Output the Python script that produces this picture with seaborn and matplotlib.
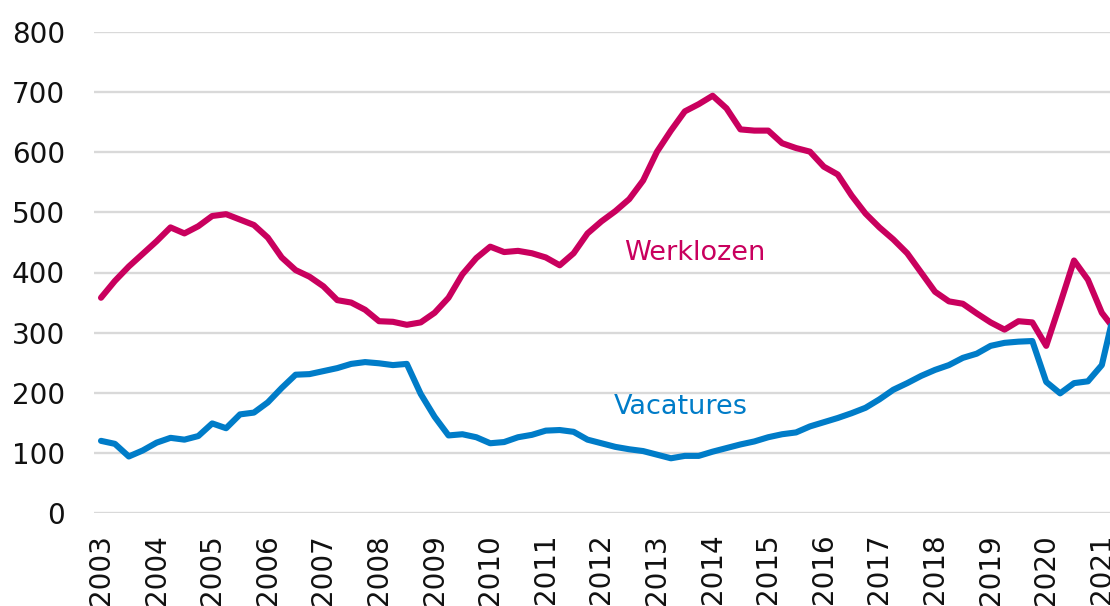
import numpy as np
import pandas as pd
import matplotlib
matplotlib.use("Agg")
import matplotlib.pyplot as plt
import seaborn as sns

# ---- data (thousands, quarterly 2003Q1 .. 2021Q2) ----
quarters = pd.period_range("2003Q1", "2021Q2", freq="Q")
werklozen = [358, 386, 410, 431,
             452, 475, 465, 477,
             494, 497, 488, 479,
             458, 425, 404, 393,
             377, 354, 350, 338,
             319, 318, 313, 317,
             333, 358, 397, 424,
             443, 434, 436, 432,
             425, 412, 432, 465,
             485, 502, 522, 553,
             601, 636, 668, 680,
             694, 673, 638, 636,
             636, 615, 607, 601,
             576, 563, 528, 498,
             475, 455, 432, 400,
             368, 352, 348, 332,
             317, 305, 319, 317,
             278, 348, 420, 388,
             333, 303]
vacatures = [120, 115, 94, 104,
             117, 125, 122, 128,
             149, 141, 164, 167,
             184, 208, 230, 231,
             236, 241, 248, 251,
             249, 246, 248, 198,
             160, 129, 131, 126,
             116, 118, 126, 130,
             137, 138, 135, 122,
             116, 110, 106, 103,
             97, 91, 95, 95,
             102, 108, 114, 119,
             126, 131, 134, 144,
             151, 158, 166, 175,
             189, 205, 216, 228,
             238, 246, 258, 265,
             278, 283, 285, 286,
             218, 199, 216, 219,
             246, 345]
series_names = ["Werklozen", "Vacatures"]
series_colors = ["#C9005E", "#007CC8"]
year_ticks = list(range(2003, 2022))
y_ticks = [0, 100, 200, 300, 400, 500, 600, 700, 800]

x = np.array([p.year + (p.quarter - 1) / 4 for p in quarters])
df = pd.concat([
    pd.DataFrame({"x": x, "waarde": werklozen, "reeks": series_names[0]}),
    pd.DataFrame({"x": x, "waarde": vacatures, "reeks": series_names[1]}),
])

sns.set_theme(style="white")
plt.rcParams["font.family"] = ["DejaVu Sans"]

fig = plt.figure(figsize=(11.1, 6.06), dpi=100)
ax = fig.add_axes([94 / 1110, 1 - 513 / 606, 1 - 94 / 1110, (513 - 32) / 606])

sns.lineplot(data=df, x="x", y="waarde", hue="reeks",
             palette=dict(zip(series_names, series_colors)),
             linewidth=4.4, legend=False, ax=ax, sort=False)
for ln in ax.lines:
    ln.set_solid_joinstyle("round")
    ln.set_solid_capstyle("round")

ax.set_xlim(2002.874, 2021.147)
ax.set_ylim(0, 800)
ax.set_yticks(y_ticks)
ax.set_xticks(year_ticks)
ax.set_xticklabels([str(y) for y in year_ticks], rotation=90)
ax.tick_params(axis="y", length=0, pad=21, labelsize=20, colors="#111111")
ax.tick_params(axis="x", length=0, pad=15, labelsize=20, colors="#111111")
ax.grid(axis="y", color="#D9D9D9", linewidth=1.7)
ax.grid(axis="x", visible=False)
ax.set_axisbelow(True)
for s in ax.spines.values():
    s.set_visible(False)
ax.set_xlabel("")
ax.set_ylabel("")

ax.text(2013.67, 433, "Werklozen", color=series_colors[0], fontsize=19.5,
        ha="center", va="center")
ax.text(2013.43, 176, "Vacatures", color=series_colors[1], fontsize=19.5,
        ha="center", va="center")

fig.savefig("out.png", dpi=100)
